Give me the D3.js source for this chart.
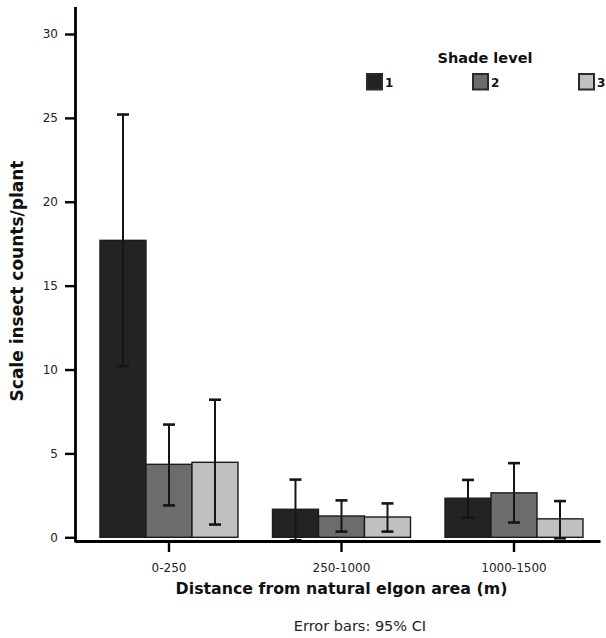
<!DOCTYPE html>
<html>
<head>
<meta charset="utf-8">
<script src="https://cdn.jsdelivr.net/npm/d3@7"></script>
<style>
  html, body { margin: 0; padding: 0; background: #fff; }
  svg { display: block; }
</style>
</head>
<body>
<svg id="chart" width="606" height="638"></svg>
<script>
// ---- data ----
const categories = ["0-250", "250-1000", "1000-1500"];
const shadeLevels = ["1", "2", "3"];
const means = [
  [17.7, 4.35, 4.47],
  [1.67, 1.27, 1.21],
  [2.33, 2.65, 1.10]
];
const ciLow = [
  [10.2, 1.9, 0.76],
  [-0.18, 0.34, 0.34],
  [1.17, 0.88, -0.06]
];
const ciHigh = [
  [25.2, 6.72, 8.2],
  [3.44, 2.2, 2.02],
  [3.42, 4.42, 2.16]
];
const yTicks = [0, 5, 10, 15, 20, 25, 30];
const fills = ["#232323", "#6c6c6c", "#c0c0c0"];

// ---- layout ----
const svg = d3.select("#chart");
const x = d3.scaleBand().domain(categories).range([75, 600])
  .paddingInner(0.2).paddingOuter(0.1217).align(0.595);
const xs = d3.scaleBand().domain(shadeLevels).range([0, x.bandwidth()]).padding(0);
const y = d3.scaleLinear().domain([0, 30]).range([537.3, 34]);
const axisY = 541;

// bars
const rows = [];
categories.forEach((c, i) => shadeLevels.forEach((s, j) => rows.push({
  c, s, j, v: means[i][j], lo: ciLow[i][j], hi: ciHigh[i][j]
})));

const g = svg.append("g");
g.selectAll("rect.bar").data(rows).join("rect")
  .attr("class", "bar")
  .attr("x", d => x(d.c) + xs(d.s))
  .attr("width", xs.bandwidth())
  .attr("y", d => y(d.v))
  .attr("height", d => y(0) - y(d.v))
  .attr("fill", d => fills[d.j])
  .attr("stroke", "#1c1c1c")
  .attr("stroke-width", 1.4);

// error bars
const cx = d => x(d.c) + xs(d.s) + xs.bandwidth() / 2;
const eb = g.selectAll("g.eb").data(rows).join("g").attr("class", "eb")
  .attr("stroke", "#151515");
eb.append("line")
  .attr("x1", cx).attr("x2", cx)
  .attr("y1", d => y(d.hi)).attr("y2", d => y(d.lo))
  .attr("stroke-width", 2);
eb.append("line")
  .attr("x1", d => cx(d) - 6).attr("x2", d => cx(d) + 6)
  .attr("y1", d => y(d.hi)).attr("y2", d => y(d.hi))
  .attr("stroke-width", 2.6);
eb.append("line")
  .attr("x1", d => cx(d) - 6).attr("x2", d => cx(d) + 6)
  .attr("y1", d => y(d.lo)).attr("y2", d => y(d.lo))
  .attr("stroke-width", 2.6);

// y axis
const yAxis = svg.append("g").attr("transform", "translate(75,0)")
  .call(d3.axisLeft(y).tickValues(yTicks).tickSize(10).tickPadding(7));
yAxis.select(".domain").remove();
yAxis.selectAll(".tick line").attr("stroke", "#000").attr("stroke-width", 2.4);
yAxis.selectAll(".tick text").attr("fill", "#222")
  .style("font-family", "'DejaVu Sans', sans-serif").style("font-size", "12px");
svg.append("line").attr("x1", 75.5).attr("x2", 75.5).attr("y1", 7).attr("y2", axisY + 1.5)
  .attr("stroke", "#000").attr("stroke-width", 2.8);

// x axis
const xAxis = svg.append("g").attr("transform", `translate(0,${axisY})`)
  .call(d3.axisBottom(x).tickSize(11).tickSizeOuter(0).tickPadding(11));
xAxis.select(".domain").attr("stroke", "#000").attr("stroke-width", 3);
xAxis.selectAll(".tick line").attr("stroke", "#000").attr("stroke-width", 2.4);
xAxis.selectAll(".tick text").attr("fill", "#222")
  .style("font-family", "'DejaVu Sans', sans-serif").style("font-size", "12px");

// titles
svg.append("text")
  .attr("transform", "translate(23,281) rotate(-90)")
  .attr("text-anchor", "middle")
  .style("font-family", "'DejaVu Sans', sans-serif").style("font-weight", "bold")
  .style("font-size", "17px").attr("fill", "#111")
  .text("Scale insect counts/plant");

svg.append("text")
  .attr("x", 341.5).attr("y", 594)
  .attr("text-anchor", "middle")
  .style("font-family", "'DejaVu Sans', sans-serif").style("font-weight", "bold")
  .style("font-size", "15.8px").attr("fill", "#111")
  .text("Distance from natural elgon area (m)");

svg.append("text")
  .attr("x", 360).attr("y", 631)
  .attr("text-anchor", "middle")
  .style("font-family", "'DejaVu Sans', sans-serif")
  .style("font-size", "14.5px").attr("fill", "#222")
  .text("Error bars: 95% CI");

// legend
const legX = d3.scalePoint().domain(shadeLevels).range([366, 578]);
svg.append("text")
  .attr("x", 485).attr("y", 63)
  .attr("text-anchor", "middle")
  .style("font-family", "'DejaVu Sans', sans-serif").style("font-weight", "bold")
  .style("font-size", "14.5px").attr("fill", "#111")
  .text("Shade level");
const li = svg.selectAll("g.leg").data(shadeLevels).join("g").attr("class", "leg")
  .attr("transform", d => `translate(${legX(d)},73)`);
li.append("rect")
  .attr("x", 1).attr("y", 1).attr("width", 15).attr("height", 15.5)
  .attr("fill", (d, i) => fills[i])
  .attr("stroke", "#2a2a2a").attr("stroke-width", 2);
li.append("text")
  .attr("x", 19).attr("y", 14)
  .style("font-family", "'DejaVu Sans', sans-serif").style("font-weight", "bold")
  .style("font-size", "12px").attr("fill", "#111")
  .text(d => d);
</script>
</body>
</html>
